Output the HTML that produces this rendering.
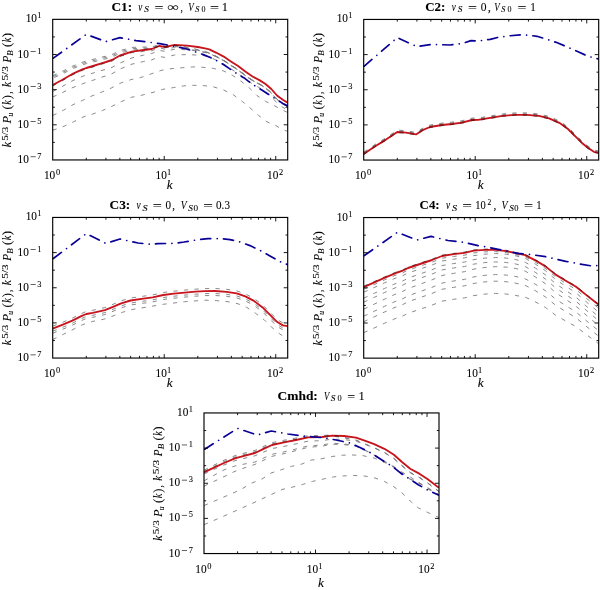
<!DOCTYPE html>
<html><head><meta charset="utf-8"><style>
html,body{margin:0;padding:0;background:#fff;}
svg{display:block;will-change:transform;}
text{font-family:"Liberation Serif", serif;fill:#000;white-space:pre;stroke:#000;stroke-width:0.08px;}
</style></head><body>
<svg width="600" height="590" viewBox="0 0 600 590">
<rect width="600" height="590" fill="#fff"/>
<clipPath id="cpC1"><rect x="52.7" y="19.35" width="235.0" height="140.6"/></clipPath>
<g clip-path="url(#cpC1)" fill="none">
<path d="M52.70,85.00 L62.00,80.00 L72.00,74.20 L83.00,69.20 L86.30,68.00 L93.00,66.00 L103.00,62.80 L106.00,62.00 L112.00,60.00 L120.00,55.50 L132.00,51.60 L143.60,50.00 L151.70,49.00 L159.20,46.00 L165.30,47.00 L174.70,44.90 L187.00,45.60 L197.80,47.00 L205.00,48.30 L209.30,49.30 L216.50,52.80 L223.70,56.60 L230.90,61.40 L238.10,66.00 L245.30,71.60 L252.50,76.50 L259.80,80.40 L265.50,84.00 L271.30,89.00 L277.00,95.50 L282.80,99.80 L287.70,102.70" stroke="#c8141c" stroke-width="1.85" stroke-linejoin="round"/>
<g style="mix-blend-mode:multiply">
<path d="M52.70,130.30 L64.20,126.20 L73.70,121.70 L83.20,117.00 L92.70,114.00 L102.80,110.40 L112.30,106.10 L121.80,101.40 L131.30,97.30 L142.20,95.10 L153.00,92.40 L162.50,89.40 L173.40,87.60 L183.60,85.90 L193.70,85.30 L203.90,85.60 L213.60,86.90 L223.70,90.00 L233.80,95.10 L242.50,101.60 L251.10,108.80 L258.30,115.30 L267.00,121.80 L275.60,125.40 L281.40,129.00 L287.70,131.50" stroke="#7c7c7c" stroke-width="0.9" stroke-dasharray="4.2 6.35"/>
<path d="M52.70,115.50 L63.50,110.20 L73.00,104.70 L82.50,100.40 L92.00,95.90 L102.20,91.90 L111.70,87.80 L121.20,82.80 L130.60,79.70 L140.80,77.50 L151.70,73.70 L161.20,70.40 L172.00,68.60 L182.90,67.70 L192.40,66.90 L203.20,67.30 L213.60,68.40 L223.70,71.00 L232.40,75.30 L241.00,81.10 L249.70,88.30 L256.90,95.50 L265.50,101.30 L274.20,105.60 L281.40,109.60 L287.70,112.50" stroke="#7c7c7c" stroke-width="0.9" stroke-dasharray="4.2 6.35"/>
<path d="M52.70,97.00 L62.00,92.79 L72.00,87.85 L83.00,83.67 L86.30,82.39 L93.00,80.21 L103.00,76.75 L106.00,75.87 L112.00,73.71 L120.00,69.00 L132.00,64.10 L143.60,61.53 L151.70,59.93 L159.20,56.63 L165.30,57.39 L174.70,54.91 L187.00,54.60 L197.80,55.10 L205.00,55.80 L209.30,56.80 L216.50,60.30 L223.70,64.10 L230.90,68.90 L238.10,73.50 L245.30,79.10 L252.50,84.00 L259.80,87.90 L265.50,91.50 L271.30,96.50 L277.00,103.00 L282.80,107.30 L287.70,110.20" stroke="#7c7c7c" stroke-width="0.9" stroke-dasharray="4.2 6.35"/>
<path d="M52.70,91.50 L62.00,86.64 L72.00,80.99 L83.00,76.15 L86.30,75.00 L93.00,73.10 L103.00,70.05 L106.00,69.29 L112.00,67.38 L120.00,63.00 L132.00,57.90 L143.60,55.14 L151.70,53.48 L159.20,50.42 L165.30,51.36 L174.70,49.18 L187.00,49.76 L197.80,51.07 L205.00,52.30 L209.30,53.30 L216.50,56.80 L223.70,60.60 L230.90,65.40 L238.10,70.00 L245.30,75.60 L252.50,80.50 L259.80,84.40 L265.50,88.00 L271.30,93.00 L277.00,99.50 L282.80,103.80 L287.70,106.70" stroke="#7c7c7c" stroke-width="0.9" stroke-dasharray="4.2 6.35"/>
<path d="M52.70,86.00 L62.00,81.00 L72.00,75.20 L83.00,70.20 L86.30,69.00 L93.00,67.00 L103.00,63.80 L106.00,63.00 L112.00,61.00 L120.00,56.50 L132.00,52.60 L143.60,51.40 L151.70,50.69 L159.20,47.95 L165.30,49.16 L174.70,47.39 L187.00,48.78 L197.80,50.79 L205.00,52.50 L209.30,53.50 L216.50,57.00 L223.70,60.80 L230.90,65.60 L238.10,70.20 L245.30,75.80 L252.50,80.70 L259.80,84.60 L265.50,88.20 L271.30,93.20 L277.00,99.70 L282.80,104.00 L287.70,106.90" stroke="#7c7c7c" stroke-width="0.9" stroke-dasharray="4.2 6.35"/>
<path d="M52.70,75.60 L62.00,71.51 L72.00,66.37 L83.00,62.01 L86.30,61.01 L93.00,59.40 L103.00,56.82 L106.00,56.20 L112.00,54.57 L120.00,50.56 L132.00,47.40 L143.60,47.04 L151.70,46.91 L159.20,44.71 L165.30,46.37 L174.70,45.29 L187.00,47.27 L197.80,49.58 L205.00,51.48 L209.30,52.84 L216.50,56.40 L223.70,60.20 L230.90,65.00 L238.10,69.60 L245.30,75.20 L252.50,80.10 L259.80,84.00 L265.50,87.60 L271.30,92.60 L277.00,99.10 L282.80,103.40 L287.70,106.30" stroke="#7c7c7c" stroke-width="0.9" stroke-dasharray="4.2 6.35"/>
<path d="M52.70,76.90 L62.00,72.81 L72.00,67.67 L83.00,63.31 L86.30,62.31 L93.00,60.70 L103.00,58.12 L106.00,57.50 L112.00,55.87 L120.00,51.86 L132.00,48.70 L143.60,48.09 L151.70,47.79 L159.20,45.43 L165.30,47.03 L174.70,45.87 L187.00,47.74 L197.80,49.92 L205.00,51.74 L209.30,53.05 L216.50,56.60 L223.70,60.40 L230.90,65.20 L238.10,69.80 L245.30,75.40 L252.50,80.30 L259.80,84.20 L265.50,87.80 L271.30,92.80 L277.00,99.30 L282.80,103.60 L287.70,106.50" stroke="#7c7c7c" stroke-width="0.9" stroke-dasharray="4.2 6.35" stroke-dashoffset="-0.9"/>
<path d="M52.70,78.20 L62.00,74.11 L72.00,68.97 L83.00,64.61 L86.30,63.61 L93.00,62.00 L103.00,59.42 L106.00,58.80 L112.00,57.17 L120.00,53.16 L132.00,50.00 L143.60,49.15 L151.70,48.67 L159.20,46.15 L165.30,47.69 L174.70,46.45 L187.00,48.22 L197.80,50.27 L205.00,52.00 L209.30,53.26 L216.50,56.80 L223.70,60.60 L230.90,65.40 L238.10,70.00 L245.30,75.60 L252.50,80.50 L259.80,84.40 L265.50,88.00 L271.30,93.00 L277.00,99.50 L282.80,103.80 L287.70,106.70" stroke="#7c7c7c" stroke-width="0.9" stroke-dasharray="4.2 6.35" stroke-dashoffset="-1.8"/>
</g>
<path d="M52.70,58.60 L86.30,34.40 L105.90,41.60 L119.90,37.60 L136.00,40.60 L146.30,41.90 L159.80,43.60 L170.70,45.60 L184.20,48.30 L195.00,51.70 L203.30,54.60 L214.20,59.20 L219.20,62.10 L224.20,65.00 L233.30,71.25 L238.30,74.60 L244.20,77.90 L248.20,81.10 L255.40,86.20 L262.60,90.50 L269.80,95.20 L277.00,99.80 L282.80,103.40 L287.70,105.90" stroke="#0a0096" stroke-width="1.7" stroke-dasharray="10.1 6.4 0.01 6.29" stroke-dashoffset="-0.8" stroke-linecap="round" stroke-linejoin="round"/>
</g>
<path d="M86.27,159.95v-2.2M86.27,19.35v2.2M105.91,159.95v-2.2M105.91,19.35v2.2M119.84,159.95v-2.2M119.84,19.35v2.2M130.65,159.95v-2.2M130.65,19.35v2.2M139.48,159.95v-2.2M139.48,19.35v2.2M146.95,159.95v-2.2M146.95,19.35v2.2M153.41,159.95v-2.2M153.41,19.35v2.2M159.12,159.95v-2.2M159.12,19.35v2.2M164.22,159.95v-4.0M164.22,19.35v4.0M197.79,159.95v-2.2M197.79,19.35v2.2M217.43,159.95v-2.2M217.43,19.35v2.2M231.36,159.95v-2.2M231.36,19.35v2.2M242.17,159.95v-2.2M242.17,19.35v2.2M251.00,159.95v-2.2M251.00,19.35v2.2M258.47,159.95v-2.2M258.47,19.35v2.2M264.94,159.95v-2.2M264.94,19.35v2.2M270.64,159.95v-2.2M270.64,19.35v2.2M275.74,159.95v-4.0M275.74,19.35v4.0M52.70,142.38h2.2M287.70,142.38h-2.2M52.70,124.80h4.0M287.70,124.80h-4.0M52.70,107.22h2.2M287.70,107.22h-2.2M52.70,89.65h4.0M287.70,89.65h-4.0M52.70,72.07h2.2M287.70,72.07h-2.2M52.70,54.50h4.0M287.70,54.50h-4.0M52.70,36.92h2.2M287.70,36.92h-2.2" stroke="#000" stroke-width="0.9" fill="none"/>
<rect x="52.70" y="19.35" width="235.00" height="140.60" stroke="#000" stroke-width="1.15" fill="none"/>
<text transform="translate(25.70,22.35) scale(0.944,1)" font-size="12.0">10</text><text x="37.35" y="18.35" font-size="8.4">1</text>
<text transform="translate(17.55,57.50) scale(0.944,1)" font-size="12.0">10</text><rect x="30.55" y="51.05" width="5.15" height="0.62" fill="#000"/><text x="37.35" y="53.50" font-size="8.4">1</text>
<text transform="translate(17.55,92.65) scale(0.944,1)" font-size="12.0">10</text><rect x="30.55" y="86.20" width="5.15" height="0.62" fill="#000"/><text x="37.35" y="88.65" font-size="8.4">3</text>
<text transform="translate(17.55,127.80) scale(0.944,1)" font-size="12.0">10</text><rect x="30.55" y="121.35" width="5.15" height="0.62" fill="#000"/><text x="37.35" y="123.80" font-size="8.4">5</text>
<text transform="translate(17.55,162.95) scale(0.944,1)" font-size="12.0">10</text><rect x="30.55" y="156.50" width="5.15" height="0.62" fill="#000"/><text x="37.35" y="158.95" font-size="8.4">7</text>
<text transform="translate(43.95,178.95) scale(0.944,1)" font-size="12.0">10</text><text x="55.93" y="175.05" font-size="8.4">0</text>
<text transform="translate(155.48,178.95) scale(0.944,1)" font-size="12.0">10</text><text x="167.03" y="175.05" font-size="8.4">1</text>
<text transform="translate(267.00,178.95) scale(0.944,1)" font-size="12.0">10</text><text x="278.92" y="175.05" font-size="8.4">2</text>
<text transform="translate(166.82,189.25) scale(1.105,1)" font-size="12.0" font-style="italic">k</text>
<g transform="translate(10.90,147.15) rotate(-90)"><text transform="translate(-0.05,0.00) scale(1.008,1)" font-size="12.0" font-style="italic">k</text><text transform="translate(6.46,-3.30) scale(1.311,1)" font-size="8.4">5/3</text><text transform="translate(23.77,0.00) scale(1.016,1)" font-size="12.0" font-style="italic">P</text><text transform="translate(30.53,1.90) scale(0.891,1)" font-size="8.4" font-style="italic">u</text><text transform="translate(37.72,0.00) scale(1.103,1)" font-size="12.0">(</text><text transform="translate(42.50,0.00) scale(0.853,1)" font-size="12.0" font-style="italic">k</text><text transform="translate(47.90,0.00) scale(1.038,1)" font-size="12.0">)</text><text transform="translate(53.34,0.00) scale(0.783,1)" font-size="12.0">,</text><text transform="translate(60.07,0.00) scale(0.950,1)" font-size="12.0" font-style="italic">k</text><text transform="translate(66.55,-3.30) scale(1.341,1)" font-size="8.4">5/3</text><text transform="translate(84.56,0.00) scale(0.931,1)" font-size="12.0" font-style="italic">P</text><text transform="translate(91.42,1.60) scale(1.068,1)" font-size="8.4" font-style="italic">B</text><text transform="translate(100.22,0.00) scale(1.103,1)" font-size="12.0">(</text><text transform="translate(104.91,0.00) scale(0.834,1)" font-size="12.0" font-style="italic">k</text><text transform="translate(109.89,0.00) scale(1.071,1)" font-size="12.0">)</text></g>
<text transform="translate(111.40,10.50) scale(1.112,1)" font-size="12.0" font-weight="bold">C1:</text><text transform="translate(138.18,10.50) scale(0.756,1)" font-size="12.0" font-style="italic">ν</text><text transform="translate(144.19,12.40) scale(1.109,1)" font-size="8.4" font-style="italic">S</text><text transform="translate(154.51,11.60) scale(1.325,1)" font-size="12.0">=</text><text transform="translate(167.19,11.20) scale(1.360,1)" font-size="12.0">∞</text><text transform="translate(180.44,10.50) scale(0.783,1)" font-size="12.0">,</text><text transform="translate(188.33,10.50) scale(0.751,1)" font-size="12.0" font-style="italic">V</text><text transform="translate(195.20,12.40) scale(0.983,1)" font-size="8.4" font-style="italic">S</text><text transform="translate(201.49,12.40) scale(0.955,1)" font-size="8.4">0</text><text transform="translate(210.01,11.60) scale(1.325,1)" font-size="12.0">=</text><text transform="translate(221.70,10.50) scale(1.042,1)" font-size="12.0">1</text>
<clipPath id="cpC2"><rect x="363.7" y="19.45" width="235.0" height="140.6"/></clipPath>
<g clip-path="url(#cpC2)" fill="none">
<path d="M363.70,154.00 L374.00,147.00 L386.00,139.60 L397.30,132.00 L406.00,132.60 L416.00,134.40 L422.00,130.40 L430.00,127.00 L442.00,125.00 L452.00,124.00 L462.00,122.60 L472.00,120.00 L478.00,119.90 L490.20,117.90 L502.40,115.90 L514.60,114.80 L526.80,114.80 L539.00,115.90 L549.10,118.30 L559.30,122.80 L567.40,128.50 L575.60,136.60 L581.70,142.70 L587.80,147.80 L593.90,151.80 L598.40,152.80" stroke="#c8141c" stroke-width="1.85" stroke-linejoin="round"/>
<g style="mix-blend-mode:multiply">
<path d="M363.70,152.10 L374.00,145.10 L386.00,137.70 L397.30,130.10 L406.00,130.70 L416.00,132.50 L422.00,128.50 L430.00,125.10 L442.00,123.10 L452.00,122.10 L462.00,120.70 L472.00,118.10 L478.00,118.00 L490.20,116.00 L502.40,114.00 L514.60,112.90 L526.80,112.90 L539.00,114.00 L549.10,116.40 L559.30,120.90 L567.40,126.60 L575.60,134.70 L581.70,140.80 L587.80,145.90 L593.90,149.90 L598.40,150.90" stroke="#7c7c7c" stroke-width="0.9" stroke-dasharray="4.2 6.35"/>
<path d="M363.70,153.00 L374.00,146.00 L386.00,138.60 L397.30,131.00 L406.00,131.60 L416.00,133.40 L422.00,129.40 L430.00,126.00 L442.00,124.00 L452.00,123.00 L462.00,121.60 L472.00,119.00 L478.00,118.90 L490.20,116.90 L502.40,114.90 L514.60,113.80 L526.80,113.80 L539.00,114.90 L549.10,117.30 L559.30,121.80 L567.40,127.50 L575.60,135.60 L581.70,141.70 L587.80,146.80 L593.90,150.80 L598.40,151.80" stroke="#7c7c7c" stroke-width="0.9" stroke-dasharray="4.2 6.35"/>
<path d="M363.70,154.60 L374.00,147.60 L386.00,140.20 L397.30,132.60 L406.00,133.20 L416.00,135.00 L422.00,131.00 L430.00,127.60 L442.00,125.60 L452.00,124.60 L462.00,123.20 L472.00,120.60 L478.00,120.50 L490.20,118.50 L502.40,116.50 L514.60,115.40 L526.80,115.40 L539.00,116.50 L549.10,118.90 L559.30,123.40 L567.40,129.10 L575.60,137.20 L581.70,143.30 L587.80,148.40 L593.90,152.40 L598.40,153.40" stroke="#7c7c7c" stroke-width="0.9" stroke-dasharray="4.2 6.35"/>
</g>
<path d="M363.70,66.60 L397.30,37.60 L416.90,46.60 L432.00,44.40 L450.00,45.00 L462.00,43.60 L471.00,40.60 L478.00,41.00 L490.20,39.30 L498.30,37.30 L508.50,35.90 L520.70,34.80 L528.80,35.20 L537.00,36.30 L547.10,39.30 L557.30,42.80 L567.40,47.00 L577.60,51.50 L587.80,56.20 L598.40,59.00" stroke="#0a0096" stroke-width="1.7" stroke-dasharray="10.1 6.4 0.01 6.29" stroke-dashoffset="-0.8" stroke-linecap="round" stroke-linejoin="round"/>
</g>
<path d="M397.27,160.05v-2.2M397.27,19.45v2.2M416.91,160.05v-2.2M416.91,19.45v2.2M430.84,160.05v-2.2M430.84,19.45v2.2M441.65,160.05v-2.2M441.65,19.45v2.2M450.48,160.05v-2.2M450.48,19.45v2.2M457.95,160.05v-2.2M457.95,19.45v2.2M464.41,160.05v-2.2M464.41,19.45v2.2M470.12,160.05v-2.2M470.12,19.45v2.2M475.22,160.05v-4.0M475.22,19.45v4.0M508.79,160.05v-2.2M508.79,19.45v2.2M528.43,160.05v-2.2M528.43,19.45v2.2M542.36,160.05v-2.2M542.36,19.45v2.2M553.17,160.05v-2.2M553.17,19.45v2.2M562.00,160.05v-2.2M562.00,19.45v2.2M569.47,160.05v-2.2M569.47,19.45v2.2M575.94,160.05v-2.2M575.94,19.45v2.2M581.64,160.05v-2.2M581.64,19.45v2.2M586.74,160.05v-4.0M586.74,19.45v4.0M363.70,142.47h2.2M598.70,142.47h-2.2M363.70,124.90h4.0M598.70,124.90h-4.0M363.70,107.33h2.2M598.70,107.33h-2.2M363.70,89.75h4.0M598.70,89.75h-4.0M363.70,72.17h2.2M598.70,72.17h-2.2M363.70,54.60h4.0M598.70,54.60h-4.0M363.70,37.02h2.2M598.70,37.02h-2.2" stroke="#000" stroke-width="0.9" fill="none"/>
<rect x="363.70" y="19.45" width="235.00" height="140.60" stroke="#000" stroke-width="1.15" fill="none"/>
<text transform="translate(336.70,22.45) scale(0.944,1)" font-size="12.0">10</text><text x="348.35" y="18.45" font-size="8.4">1</text>
<text transform="translate(328.55,57.60) scale(0.944,1)" font-size="12.0">10</text><rect x="341.55" y="51.15" width="5.15" height="0.62" fill="#000"/><text x="348.35" y="53.60" font-size="8.4">1</text>
<text transform="translate(328.55,92.75) scale(0.944,1)" font-size="12.0">10</text><rect x="341.55" y="86.30" width="5.15" height="0.62" fill="#000"/><text x="348.35" y="88.75" font-size="8.4">3</text>
<text transform="translate(328.55,127.90) scale(0.944,1)" font-size="12.0">10</text><rect x="341.55" y="121.45" width="5.15" height="0.62" fill="#000"/><text x="348.35" y="123.90" font-size="8.4">5</text>
<text transform="translate(328.55,163.05) scale(0.944,1)" font-size="12.0">10</text><rect x="341.55" y="156.60" width="5.15" height="0.62" fill="#000"/><text x="348.35" y="159.05" font-size="8.4">7</text>
<text transform="translate(354.95,179.05) scale(0.944,1)" font-size="12.0">10</text><text x="366.93" y="175.15" font-size="8.4">0</text>
<text transform="translate(466.48,179.05) scale(0.944,1)" font-size="12.0">10</text><text x="478.03" y="175.15" font-size="8.4">1</text>
<text transform="translate(578.00,179.05) scale(0.944,1)" font-size="12.0">10</text><text x="589.92" y="175.15" font-size="8.4">2</text>
<text transform="translate(477.82,189.35) scale(1.105,1)" font-size="12.0" font-style="italic">k</text>
<g transform="translate(321.90,147.25) rotate(-90)"><text transform="translate(-0.05,0.00) scale(1.008,1)" font-size="12.0" font-style="italic">k</text><text transform="translate(6.46,-3.30) scale(1.311,1)" font-size="8.4">5/3</text><text transform="translate(23.77,0.00) scale(1.016,1)" font-size="12.0" font-style="italic">P</text><text transform="translate(30.53,1.90) scale(0.891,1)" font-size="8.4" font-style="italic">u</text><text transform="translate(37.72,0.00) scale(1.103,1)" font-size="12.0">(</text><text transform="translate(42.50,0.00) scale(0.853,1)" font-size="12.0" font-style="italic">k</text><text transform="translate(47.90,0.00) scale(1.038,1)" font-size="12.0">)</text><text transform="translate(53.34,0.00) scale(0.783,1)" font-size="12.0">,</text><text transform="translate(60.07,0.00) scale(0.950,1)" font-size="12.0" font-style="italic">k</text><text transform="translate(66.55,-3.30) scale(1.341,1)" font-size="8.4">5/3</text><text transform="translate(84.56,0.00) scale(0.931,1)" font-size="12.0" font-style="italic">P</text><text transform="translate(91.42,1.60) scale(1.068,1)" font-size="8.4" font-style="italic">B</text><text transform="translate(100.22,0.00) scale(1.103,1)" font-size="12.0">(</text><text transform="translate(104.91,0.00) scale(0.834,1)" font-size="12.0" font-style="italic">k</text><text transform="translate(109.89,0.00) scale(1.071,1)" font-size="12.0">)</text></g>
<text transform="translate(425.17,10.50) scale(1.082,1)" font-size="12.0" font-weight="bold">C2:</text><text transform="translate(451.68,10.50) scale(0.756,1)" font-size="12.0" font-style="italic">ν</text><text transform="translate(457.69,12.40) scale(1.109,1)" font-size="8.4" font-style="italic">S</text><text transform="translate(468.01,11.60) scale(1.325,1)" font-size="12.0">=</text><text transform="translate(480.86,10.50) scale(0.963,1)" font-size="12.0">0</text><text transform="translate(487.81,10.50) scale(1.063,1)" font-size="12.0">,</text><text transform="translate(494.33,10.50) scale(0.751,1)" font-size="12.0" font-style="italic">V</text><text transform="translate(501.20,12.40) scale(0.983,1)" font-size="8.4" font-style="italic">S</text><text transform="translate(507.49,12.40) scale(0.955,1)" font-size="8.4">0</text><text transform="translate(517.51,11.60) scale(1.325,1)" font-size="12.0">=</text><text transform="translate(530.33,10.50) scale(0.923,1)" font-size="12.0">1</text>
<clipPath id="cpC3"><rect x="52.7" y="217.45" width="235.0" height="140.6"/></clipPath>
<g clip-path="url(#cpC3)" fill="none">
<path d="M52.70,328.70 L62.80,324.70 L72.30,320.70 L81.80,315.90 L86.30,314.00 L92.70,312.80 L104.90,310.10 L113.00,306.80 L121.20,303.30 L130.60,300.50 L143.30,298.70 L152.70,297.40 L163.30,295.00 L174.00,293.70 L184.70,292.60 L195.30,291.70 L204.70,291.10 L215.10,291.00 L226.60,291.80 L236.70,293.40 L245.30,296.40 L254.00,300.90 L262.60,307.40 L269.80,314.60 L277.00,321.80 L282.80,325.40 L287.70,326.20" stroke="#c8141c" stroke-width="1.85" stroke-linejoin="round"/>
<g style="mix-blend-mode:multiply">
<path d="M52.70,339.50 L63.50,334.20 L73.00,329.50 L82.50,324.70 L92.70,321.40 L103.50,319.30 L113.00,316.00 L122.50,312.30 L130.60,309.80 L163.30,304.30 L184.70,301.70 L205.00,300.20 L216.50,300.60 L228.00,301.70 L238.10,303.80 L246.80,307.40 L255.40,313.20 L264.10,319.70 L271.30,326.90 L279.90,334.10 L287.70,338.50" stroke="#7c7c7c" stroke-width="0.9" stroke-dasharray="4.2 6.35"/>
<path d="M52.70,326.20 L62.80,322.20 L72.30,318.20 L81.80,313.40 L86.30,311.50 L92.70,310.30 L104.90,307.60 L113.00,304.30 L121.20,300.80 L130.60,298.00 L143.30,296.20 L152.70,294.90 L163.30,292.50 L174.00,291.20 L184.70,290.10 L195.30,289.20 L204.70,288.60 L215.10,288.50 L226.60,289.30 L236.70,290.90 L245.30,293.90 L254.00,298.40 L262.60,304.90 L269.80,312.10 L277.00,319.30 L282.80,322.90 L287.70,323.70" stroke="#7c7c7c" stroke-width="0.9" stroke-dasharray="4.2 6.35"/>
<path d="M52.70,331.20 L62.80,327.20 L72.30,323.20 L81.80,318.40 L86.30,316.50 L92.70,315.30 L104.90,312.60 L113.00,309.30 L121.20,305.80 L130.60,303.00 L143.30,301.20 L152.70,299.90 L163.30,297.50 L174.00,296.20 L184.70,295.10 L195.30,294.20 L204.70,293.60 L215.10,293.50 L226.60,294.30 L236.70,295.90 L245.30,298.90 L254.00,303.40 L262.60,309.90 L269.80,317.10 L277.00,324.30 L282.80,327.90 L287.70,328.70" stroke="#7c7c7c" stroke-width="0.9" stroke-dasharray="4.2 6.35"/>
<path d="M52.70,333.20 L62.80,329.20 L72.30,325.20 L81.80,320.40 L86.30,318.50 L92.70,317.30 L104.90,314.60 L113.00,311.30 L121.20,307.80 L130.60,305.00 L143.30,303.20 L152.70,301.90 L163.30,299.50 L174.00,298.20 L184.70,297.10 L195.30,296.20 L204.70,295.60 L215.10,295.50 L226.60,296.30 L236.70,297.90 L245.30,300.90 L254.00,305.40 L262.60,311.90 L269.80,319.10 L277.00,326.30 L282.80,329.90 L287.70,330.70" stroke="#7c7c7c" stroke-width="0.9" stroke-dasharray="4.2 6.35"/>
</g>
<path d="M52.70,259.00 L86.30,233.60 L105.90,243.40 L120.00,239.00 L138.00,243.00 L152.00,244.40 L158.00,243.60 L174.00,243.40 L184.00,242.00 L196.00,240.00 L208.00,238.60 L220.00,238.60 L230.00,239.60 L240.00,242.00 L250.00,245.60 L260.00,250.40 L270.00,256.00 L280.00,261.60 L287.70,264.60" stroke="#0a0096" stroke-width="1.7" stroke-dasharray="10.1 6.4 0.01 6.29" stroke-dashoffset="-0.8" stroke-linecap="round" stroke-linejoin="round"/>
</g>
<path d="M86.27,358.05v-2.2M86.27,217.45v2.2M105.91,358.05v-2.2M105.91,217.45v2.2M119.84,358.05v-2.2M119.84,217.45v2.2M130.65,358.05v-2.2M130.65,217.45v2.2M139.48,358.05v-2.2M139.48,217.45v2.2M146.95,358.05v-2.2M146.95,217.45v2.2M153.41,358.05v-2.2M153.41,217.45v2.2M159.12,358.05v-2.2M159.12,217.45v2.2M164.22,358.05v-4.0M164.22,217.45v4.0M197.79,358.05v-2.2M197.79,217.45v2.2M217.43,358.05v-2.2M217.43,217.45v2.2M231.36,358.05v-2.2M231.36,217.45v2.2M242.17,358.05v-2.2M242.17,217.45v2.2M251.00,358.05v-2.2M251.00,217.45v2.2M258.47,358.05v-2.2M258.47,217.45v2.2M264.94,358.05v-2.2M264.94,217.45v2.2M270.64,358.05v-2.2M270.64,217.45v2.2M275.74,358.05v-4.0M275.74,217.45v4.0M52.70,340.47h2.2M287.70,340.47h-2.2M52.70,322.90h4.0M287.70,322.90h-4.0M52.70,305.32h2.2M287.70,305.32h-2.2M52.70,287.75h4.0M287.70,287.75h-4.0M52.70,270.17h2.2M287.70,270.17h-2.2M52.70,252.60h4.0M287.70,252.60h-4.0M52.70,235.02h2.2M287.70,235.02h-2.2" stroke="#000" stroke-width="0.9" fill="none"/>
<rect x="52.70" y="217.45" width="235.00" height="140.60" stroke="#000" stroke-width="1.15" fill="none"/>
<text transform="translate(25.70,220.45) scale(0.944,1)" font-size="12.0">10</text><text x="37.35" y="216.45" font-size="8.4">1</text>
<text transform="translate(17.55,255.60) scale(0.944,1)" font-size="12.0">10</text><rect x="30.55" y="249.15" width="5.15" height="0.62" fill="#000"/><text x="37.35" y="251.60" font-size="8.4">1</text>
<text transform="translate(17.55,290.75) scale(0.944,1)" font-size="12.0">10</text><rect x="30.55" y="284.30" width="5.15" height="0.62" fill="#000"/><text x="37.35" y="286.75" font-size="8.4">3</text>
<text transform="translate(17.55,325.90) scale(0.944,1)" font-size="12.0">10</text><rect x="30.55" y="319.45" width="5.15" height="0.62" fill="#000"/><text x="37.35" y="321.90" font-size="8.4">5</text>
<text transform="translate(17.55,361.05) scale(0.944,1)" font-size="12.0">10</text><rect x="30.55" y="354.60" width="5.15" height="0.62" fill="#000"/><text x="37.35" y="357.05" font-size="8.4">7</text>
<text transform="translate(43.95,377.05) scale(0.944,1)" font-size="12.0">10</text><text x="55.93" y="373.15" font-size="8.4">0</text>
<text transform="translate(155.48,377.05) scale(0.944,1)" font-size="12.0">10</text><text x="167.03" y="373.15" font-size="8.4">1</text>
<text transform="translate(267.00,377.05) scale(0.944,1)" font-size="12.0">10</text><text x="278.92" y="373.15" font-size="8.4">2</text>
<text transform="translate(166.82,387.35) scale(1.105,1)" font-size="12.0" font-style="italic">k</text>
<g transform="translate(10.90,345.25) rotate(-90)"><text transform="translate(-0.05,0.00) scale(1.008,1)" font-size="12.0" font-style="italic">k</text><text transform="translate(6.46,-3.30) scale(1.311,1)" font-size="8.4">5/3</text><text transform="translate(23.77,0.00) scale(1.016,1)" font-size="12.0" font-style="italic">P</text><text transform="translate(30.53,1.90) scale(0.891,1)" font-size="8.4" font-style="italic">u</text><text transform="translate(37.72,0.00) scale(1.103,1)" font-size="12.0">(</text><text transform="translate(42.50,0.00) scale(0.853,1)" font-size="12.0" font-style="italic">k</text><text transform="translate(47.90,0.00) scale(1.038,1)" font-size="12.0">)</text><text transform="translate(53.34,0.00) scale(0.783,1)" font-size="12.0">,</text><text transform="translate(60.07,0.00) scale(0.950,1)" font-size="12.0" font-style="italic">k</text><text transform="translate(66.55,-3.30) scale(1.341,1)" font-size="8.4">5/3</text><text transform="translate(84.56,0.00) scale(0.931,1)" font-size="12.0" font-style="italic">P</text><text transform="translate(91.42,1.60) scale(1.068,1)" font-size="8.4" font-style="italic">B</text><text transform="translate(100.22,0.00) scale(1.103,1)" font-size="12.0">(</text><text transform="translate(104.91,0.00) scale(0.834,1)" font-size="12.0" font-style="italic">k</text><text transform="translate(109.89,0.00) scale(1.071,1)" font-size="12.0">)</text></g>
<text transform="translate(109.55,208.70) scale(1.112,1)" font-size="12.0" font-weight="bold">C3:</text><text transform="translate(136.57,208.70) scale(0.775,1)" font-size="12.0" font-style="italic">ν</text><text transform="translate(142.58,210.60) scale(1.210,1)" font-size="8.4" font-style="italic">S</text><text transform="translate(152.70,209.80) scale(1.343,1)" font-size="12.0">=</text><text transform="translate(165.58,208.70) scale(0.924,1)" font-size="12.0">0</text><text transform="translate(172.19,208.70) scale(0.895,1)" font-size="12.0">,</text><text transform="translate(180.79,208.70) scale(0.815,1)" font-size="12.0" font-style="italic">V</text><text transform="translate(188.19,210.60) scale(1.109,1)" font-size="8.4" font-style="italic">S</text><text transform="translate(193.45,210.60) scale(1.095,1)" font-size="8.4">0</text><text transform="translate(203.24,209.80) scale(1.433,1)" font-size="12.0">=</text><text transform="translate(216.08,208.70) scale(0.924,1)" font-size="12.0">0.3</text>
<clipPath id="cpC4"><rect x="363.7" y="217.55" width="235.0" height="140.6"/></clipPath>
<g clip-path="url(#cpC4)" fill="none">
<path d="M363.70,287.20 L374.90,282.20 L384.40,277.90 L393.90,273.80 L397.30,272.50 L402.70,270.70 L408.00,268.00 L420.00,264.00 L432.00,260.00 L442.00,256.00 L453.60,254.20 L464.40,252.90 L473.90,250.60 L484.70,249.80 L495.60,249.80 L506.40,251.10 L515.90,253.20 L525.20,255.20 L535.30,260.30 L545.50,266.40 L555.70,274.60 L565.80,280.70 L576.00,286.70 L586.10,294.90 L598.40,304.50" stroke="#c8141c" stroke-width="1.85" stroke-linejoin="round"/>
<g style="mix-blend-mode:multiply">
<path d="M363.70,286.20 L374.90,281.22 L384.40,276.94 L393.90,272.85 L397.30,271.56 L402.70,269.77 L408.00,267.08 L420.00,263.10 L432.00,259.12 L442.00,255.14 L453.60,253.36 L464.40,252.08 L473.90,249.80 L484.70,249.00 L495.60,249.00 L506.40,250.30 L515.90,252.40 L525.20,254.43 L535.30,259.57 L545.50,265.71 L555.70,273.94 L565.80,280.08 L576.00,286.12 L586.10,294.36 L598.40,304.00" stroke="#7c7c7c" stroke-width="0.9" stroke-dasharray="4.2 6.35"/>
<path d="M363.70,289.20 L374.90,284.23 L384.40,279.96 L393.90,275.88 L397.30,274.59 L402.70,272.81 L408.00,270.12 L420.00,266.15 L432.00,262.19 L442.00,258.21 L453.60,256.44 L464.40,255.17 L473.90,252.90 L484.70,251.85 L495.60,251.59 L506.40,252.63 L515.90,254.50 L525.20,256.75 L535.30,262.12 L545.50,268.49 L555.70,276.96 L565.80,283.33 L576.00,289.60 L586.10,298.07 L598.40,308.00" stroke="#7c7c7c" stroke-width="0.9" stroke-dasharray="4.2 6.35"/>
<path d="M363.70,292.20 L374.90,287.20 L384.40,282.90 L393.90,278.80 L397.30,277.50 L402.70,275.70 L408.00,273.00 L420.00,269.00 L432.00,265.00 L442.00,261.00 L453.60,259.20 L464.40,257.90 L473.90,255.60 L484.70,254.19 L495.60,253.57 L506.40,254.25 L515.90,255.81 L525.20,258.35 L535.30,264.05 L545.50,270.75 L555.70,279.56 L565.80,286.26 L576.00,292.87 L586.10,301.67 L598.40,312.00" stroke="#7c7c7c" stroke-width="0.9" stroke-dasharray="4.2 6.35"/>
<path d="M363.70,298.20 L374.90,293.00 L384.40,288.52 L393.90,284.25 L397.30,282.89 L402.70,280.99 L408.00,278.20 L420.00,273.98 L432.00,269.76 L442.00,265.58 L453.60,263.57 L464.40,262.07 L473.90,259.60 L484.70,258.14 L495.60,257.46 L506.40,258.09 L515.90,259.61 L525.20,262.23 L535.30,268.01 L545.50,274.80 L555.70,283.70 L565.80,290.48 L576.00,297.18 L586.10,306.06 L598.40,316.50" stroke="#7c7c7c" stroke-width="0.9" stroke-dasharray="4.2 6.35"/>
<path d="M363.70,302.20 L374.90,297.05 L384.40,292.62 L393.90,288.39 L397.30,287.04 L402.70,285.17 L408.00,282.40 L420.00,278.23 L432.00,274.07 L442.00,269.94 L453.60,267.98 L464.40,266.53 L473.90,264.10 L484.70,262.61 L495.60,261.91 L506.40,262.52 L515.90,264.01 L525.20,266.58 L535.30,272.32 L545.50,279.06 L555.70,287.91 L565.80,294.64 L576.00,301.29 L586.10,310.12 L598.40,320.50" stroke="#7c7c7c" stroke-width="0.9" stroke-dasharray="4.2 6.35"/>
<path d="M363.70,309.20 L374.90,303.84 L384.40,299.24 L393.90,294.84 L397.30,293.43 L402.70,291.46 L408.00,288.59 L420.00,284.21 L432.00,279.83 L442.00,275.52 L453.60,273.35 L464.40,271.70 L473.90,269.10 L484.70,267.48 L495.60,266.65 L506.40,267.13 L515.90,268.51 L525.20,271.14 L535.30,276.94 L545.50,283.74 L555.70,292.65 L565.80,299.44 L576.00,306.15 L586.10,315.05 L598.40,325.50" stroke="#7c7c7c" stroke-width="0.9" stroke-dasharray="4.2 6.35"/>
<path d="M363.70,316.20 L374.90,310.93 L384.40,306.39 L393.90,302.06 L397.30,300.68 L402.70,298.75 L408.00,295.92 L420.00,291.62 L432.00,287.33 L442.00,283.08 L453.60,281.00 L464.40,279.43 L473.90,276.90 L484.70,275.34 L495.60,274.56 L506.40,275.09 L515.90,276.51 L525.20,278.80 L535.30,284.23 L545.50,290.67 L555.70,299.20 L565.80,305.63 L576.00,311.97 L586.10,320.50 L598.40,330.50" stroke="#7c7c7c" stroke-width="0.9" stroke-dasharray="4.2 6.35"/>
<path d="M363.70,321.70 L374.90,316.53 L384.40,312.08 L393.90,307.83 L397.30,306.48 L402.70,304.60 L408.00,301.82 L420.00,297.63 L432.00,293.45 L442.00,289.29 L453.60,287.31 L464.40,285.85 L473.90,283.40 L484.70,281.89 L495.60,281.16 L506.40,281.74 L515.90,283.21 L525.20,285.37 L535.30,290.65 L545.50,296.94 L555.70,305.32 L565.80,311.61 L576.00,317.79 L586.10,326.18 L598.40,336.00" stroke="#7c7c7c" stroke-width="0.9" stroke-dasharray="4.2 6.35"/>
<path d="M363.70,332.70 L374.90,327.65 L384.40,323.31 L393.90,319.16 L397.30,317.85 L402.70,316.02 L408.00,313.30 L420.00,309.24 L432.00,305.19 L442.00,301.15 L453.60,299.29 L464.40,297.94 L473.90,295.60 L484.70,294.11 L495.60,293.41 L506.40,294.02 L515.90,295.51 L525.20,297.13 L535.30,301.83 L545.50,307.52 L555.70,315.31 L565.80,321.01 L576.00,326.60 L586.10,334.39 L598.40,343.50" stroke="#7c7c7c" stroke-width="0.9" stroke-dasharray="4.2 6.35"/>
</g>
<path d="M363.70,256.00 L397.30,232.40 L416.90,240.00 L431.00,236.40 L448.00,240.50 L464.40,242.40 L478.00,245.70 L486.10,246.80 L497.00,249.20 L505.00,250.60 L517.30,253.30 L531.30,254.60 L545.50,256.70 L565.80,261.30 L582.10,264.40 L592.20,266.00 L598.40,265.40" stroke="#0a0096" stroke-width="1.7" stroke-dasharray="10.1 6.4 0.01 6.29" stroke-dashoffset="-0.8" stroke-linecap="round" stroke-linejoin="round"/>
</g>
<path d="M397.27,358.15v-2.2M397.27,217.55v2.2M416.91,358.15v-2.2M416.91,217.55v2.2M430.84,358.15v-2.2M430.84,217.55v2.2M441.65,358.15v-2.2M441.65,217.55v2.2M450.48,358.15v-2.2M450.48,217.55v2.2M457.95,358.15v-2.2M457.95,217.55v2.2M464.41,358.15v-2.2M464.41,217.55v2.2M470.12,358.15v-2.2M470.12,217.55v2.2M475.22,358.15v-4.0M475.22,217.55v4.0M508.79,358.15v-2.2M508.79,217.55v2.2M528.43,358.15v-2.2M528.43,217.55v2.2M542.36,358.15v-2.2M542.36,217.55v2.2M553.17,358.15v-2.2M553.17,217.55v2.2M562.00,358.15v-2.2M562.00,217.55v2.2M569.47,358.15v-2.2M569.47,217.55v2.2M575.94,358.15v-2.2M575.94,217.55v2.2M581.64,358.15v-2.2M581.64,217.55v2.2M586.74,358.15v-4.0M586.74,217.55v4.0M363.70,340.57h2.2M598.70,340.57h-2.2M363.70,323.00h4.0M598.70,323.00h-4.0M363.70,305.43h2.2M598.70,305.43h-2.2M363.70,287.85h4.0M598.70,287.85h-4.0M363.70,270.27h2.2M598.70,270.27h-2.2M363.70,252.70h4.0M598.70,252.70h-4.0M363.70,235.12h2.2M598.70,235.12h-2.2" stroke="#000" stroke-width="0.9" fill="none"/>
<rect x="363.70" y="217.55" width="235.00" height="140.60" stroke="#000" stroke-width="1.15" fill="none"/>
<text transform="translate(336.70,220.55) scale(0.944,1)" font-size="12.0">10</text><text x="348.35" y="216.55" font-size="8.4">1</text>
<text transform="translate(328.55,255.70) scale(0.944,1)" font-size="12.0">10</text><rect x="341.55" y="249.25" width="5.15" height="0.62" fill="#000"/><text x="348.35" y="251.70" font-size="8.4">1</text>
<text transform="translate(328.55,290.85) scale(0.944,1)" font-size="12.0">10</text><rect x="341.55" y="284.40" width="5.15" height="0.62" fill="#000"/><text x="348.35" y="286.85" font-size="8.4">3</text>
<text transform="translate(328.55,326.00) scale(0.944,1)" font-size="12.0">10</text><rect x="341.55" y="319.55" width="5.15" height="0.62" fill="#000"/><text x="348.35" y="322.00" font-size="8.4">5</text>
<text transform="translate(328.55,361.15) scale(0.944,1)" font-size="12.0">10</text><rect x="341.55" y="354.70" width="5.15" height="0.62" fill="#000"/><text x="348.35" y="357.15" font-size="8.4">7</text>
<text transform="translate(354.95,377.15) scale(0.944,1)" font-size="12.0">10</text><text x="366.93" y="373.25" font-size="8.4">0</text>
<text transform="translate(466.48,377.15) scale(0.944,1)" font-size="12.0">10</text><text x="478.03" y="373.25" font-size="8.4">1</text>
<text transform="translate(578.00,377.15) scale(0.944,1)" font-size="12.0">10</text><text x="589.92" y="373.25" font-size="8.4">2</text>
<text transform="translate(477.82,387.45) scale(1.105,1)" font-size="12.0" font-style="italic">k</text>
<g transform="translate(321.90,345.35) rotate(-90)"><text transform="translate(-0.05,0.00) scale(1.008,1)" font-size="12.0" font-style="italic">k</text><text transform="translate(6.46,-3.30) scale(1.311,1)" font-size="8.4">5/3</text><text transform="translate(23.77,0.00) scale(1.016,1)" font-size="12.0" font-style="italic">P</text><text transform="translate(30.53,1.90) scale(0.891,1)" font-size="8.4" font-style="italic">u</text><text transform="translate(37.72,0.00) scale(1.103,1)" font-size="12.0">(</text><text transform="translate(42.50,0.00) scale(0.853,1)" font-size="12.0" font-style="italic">k</text><text transform="translate(47.90,0.00) scale(1.038,1)" font-size="12.0">)</text><text transform="translate(53.34,0.00) scale(0.783,1)" font-size="12.0">,</text><text transform="translate(60.07,0.00) scale(0.950,1)" font-size="12.0" font-style="italic">k</text><text transform="translate(66.55,-3.30) scale(1.341,1)" font-size="8.4">5/3</text><text transform="translate(84.56,0.00) scale(0.931,1)" font-size="12.0" font-style="italic">P</text><text transform="translate(91.42,1.60) scale(1.068,1)" font-size="8.4" font-style="italic">B</text><text transform="translate(100.22,0.00) scale(1.103,1)" font-size="12.0">(</text><text transform="translate(104.91,0.00) scale(0.834,1)" font-size="12.0" font-style="italic">k</text><text transform="translate(109.89,0.00) scale(1.071,1)" font-size="12.0">)</text></g>
<text transform="translate(419.57,208.70) scale(1.076,1)" font-size="12.0" font-weight="bold">C4:</text><text transform="translate(446.07,208.70) scale(0.775,1)" font-size="12.0" font-style="italic">ν</text><text transform="translate(451.98,210.60) scale(1.235,1)" font-size="8.4" font-style="italic">S</text><text transform="translate(462.14,209.80) scale(1.433,1)" font-size="12.0">=</text><text transform="translate(475.37,208.70) scale(0.877,1)" font-size="12.0">10</text><text transform="translate(487.57,204.70) scale(0.891,1)" font-size="8.4">2</text><text transform="translate(493.57,208.70) scale(0.951,1)" font-size="12.0">,</text><text transform="translate(501.57,208.70) scale(0.840,1)" font-size="12.0" font-style="italic">V</text><text transform="translate(509.19,210.60) scale(1.109,1)" font-size="8.4" font-style="italic">S</text><text transform="translate(514.28,210.60) scale(1.011,1)" font-size="8.4">0</text><text transform="translate(524.10,209.80) scale(1.343,1)" font-size="12.0">=</text><text transform="translate(536.35,208.70) scale(0.899,1)" font-size="12.0">1</text>
<clipPath id="cpC5"><rect x="204.0" y="412.95" width="235.0" height="140.6"/></clipPath>
<g clip-path="url(#cpC5)" fill="none">
<path d="M204.00,472.40 L214.00,467.60 L224.00,463.00 L235.00,458.40 L237.60,457.60 L245.00,455.60 L255.00,453.00 L262.00,449.60 L272.00,445.00 L284.00,442.40 L296.00,440.00 L308.00,437.40 L322.00,437.00 L332.00,435.60 L344.00,436.00 L356.00,437.60 L364.00,440.30 L373.60,443.90 L384.40,448.80 L393.90,454.80 L402.00,462.00 L410.20,468.80 L419.70,473.90 L427.80,479.30 L439.00,487.80" stroke="#c8141c" stroke-width="1.85" stroke-linejoin="round"/>
<g style="mix-blend-mode:multiply">
<path d="M204.00,524.70 L225.00,515.60 L254.00,502.60 L282.00,489.50 L292.20,487.20 L302.40,484.50 L312.50,481.40 L323.40,479.00 L333.60,476.90 L343.70,475.90 L353.90,475.50 L364.00,475.90 L374.90,478.00 L384.40,481.40 L393.90,486.80 L402.00,492.90 L410.20,501.00 L418.30,507.80 L427.80,512.50 L434.00,515.30 L439.00,517.50" stroke="#7c7c7c" stroke-width="0.9" stroke-dasharray="4.2 6.35"/>
<path d="M204.00,505.60 L225.00,496.50 L240.00,490.00 L251.50,483.20 L262.00,479.00 L271.00,473.00 L281.50,469.70 L291.50,466.40 L301.70,464.10 L311.20,460.10 L322.00,458.70 L332.20,456.50 L342.40,455.20 L353.20,455.00 L362.70,455.60 L374.00,458.00 L385.00,462.60 L396.00,468.50 L408.80,476.00 L418.00,482.00 L427.80,489.00 L439.00,495.00" stroke="#7c7c7c" stroke-width="0.9" stroke-dasharray="4.2 6.35"/>
<path d="M204.00,470.20 L214.00,465.11 L224.00,460.23 L235.00,455.67 L237.60,454.89 L245.00,452.94 L255.00,450.41 L262.00,447.11 L272.00,442.65 L284.00,440.22 L296.00,438.01 L308.00,435.61 L322.00,435.43 L332.00,435.05 L344.00,437.34 L356.00,440.02 L364.00,443.40 L373.60,447.50 L384.40,452.40 L393.90,458.40 L402.00,465.60 L410.20,472.40 L419.70,477.50 L427.80,482.90 L439.00,491.40" stroke="#7c7c7c" stroke-width="0.9" stroke-dasharray="4.2 6.35"/>
<path d="M204.00,471.40 L214.00,466.41 L224.00,461.62 L235.00,457.07 L237.60,456.29 L245.00,454.34 L255.00,451.81 L262.00,448.46 L272.00,443.92 L284.00,441.41 L296.00,439.15 L308.00,436.69 L322.00,436.45 L332.00,435.89 L344.00,437.87 L356.00,440.39 L364.00,443.67 L373.60,447.70 L384.40,452.60 L393.90,458.60 L402.00,465.80 L410.20,472.60 L419.70,477.70 L427.80,483.10 L439.00,491.60" stroke="#7c7c7c" stroke-width="0.9" stroke-dasharray="4.2 6.35"/>
<path d="M204.00,474.00 L214.00,469.39 L224.00,464.98 L235.00,460.68 L237.60,459.95 L245.00,458.15 L255.00,455.84 L262.00,452.73 L272.00,448.54 L284.00,446.39 L296.00,443.88 L308.00,441.16 L322.00,440.62 L332.00,439.13 L344.00,439.54 L356.00,441.20 L364.00,443.94 L373.60,447.59 L384.40,452.54 L393.90,458.58 L402.00,465.82 L410.20,472.66 L419.70,477.81 L427.80,483.25 L439.00,491.80" stroke="#7c7c7c" stroke-width="0.9" stroke-dasharray="4.2 6.35"/>
<path d="M204.00,480.90 L214.00,475.29 L224.00,469.88 L235.00,465.96 L237.60,465.36 L245.00,463.92 L255.00,462.02 L262.00,458.74 L272.00,454.31 L284.00,451.86 L296.00,449.00 L308.00,445.94 L322.00,445.00 L332.00,443.22 L344.00,443.86 L356.00,445.94 L364.00,449.44 L373.60,454.58 L384.40,461.20 L393.90,466.48 L402.00,472.94 L410.20,478.98 L419.70,483.10 L427.80,487.66 L439.00,495.00" stroke="#7c7c7c" stroke-width="0.9" stroke-dasharray="4.2 6.35"/>
<path d="M204.00,486.20 L214.00,481.35 L224.00,476.70 L235.00,471.31 L237.60,470.30 L245.00,467.71 L255.00,464.40 L262.00,460.97 L272.00,456.34 L284.00,453.65 L296.00,450.60 L308.00,447.35 L322.00,446.20 L332.00,444.26 L344.00,444.61 L356.00,446.35 L364.00,449.77 L373.60,454.98 L384.40,461.70 L393.90,466.95 L402.00,473.37 L410.20,479.38 L419.70,483.50 L427.80,488.06 L439.00,495.40" stroke="#7c7c7c" stroke-width="0.9" stroke-dasharray="4.2 6.35"/>
</g>
<path d="M204.00,449.60 L237.60,428.40 L257.20,435.00 L271.20,431.00 L288.00,434.00 L302.00,436.00 L314.00,437.00 L322.00,437.60 L336.00,440.00 L350.00,443.00 L360.00,447.50 L372.20,453.60 L384.40,461.70 L392.50,466.40 L400.70,473.20 L410.20,479.30 L418.30,484.70 L427.80,490.20 L439.00,495.20" stroke="#0a0096" stroke-width="1.7" stroke-dasharray="10.1 6.4 0.01 6.29" stroke-dashoffset="-0.8" stroke-linecap="round" stroke-linejoin="round"/>
</g>
<path d="M237.57,553.55v-2.2M237.57,412.95v2.2M257.21,553.55v-2.2M257.21,412.95v2.2M271.14,553.55v-2.2M271.14,412.95v2.2M281.95,553.55v-2.2M281.95,412.95v2.2M290.78,553.55v-2.2M290.78,412.95v2.2M298.25,553.55v-2.2M298.25,412.95v2.2M304.71,553.55v-2.2M304.71,412.95v2.2M310.42,553.55v-2.2M310.42,412.95v2.2M315.52,553.55v-4.0M315.52,412.95v4.0M349.09,553.55v-2.2M349.09,412.95v2.2M368.73,553.55v-2.2M368.73,412.95v2.2M382.66,553.55v-2.2M382.66,412.95v2.2M393.47,553.55v-2.2M393.47,412.95v2.2M402.30,553.55v-2.2M402.30,412.95v2.2M409.77,553.55v-2.2M409.77,412.95v2.2M416.24,553.55v-2.2M416.24,412.95v2.2M421.94,553.55v-2.2M421.94,412.95v2.2M427.04,553.55v-4.0M427.04,412.95v4.0M204.00,535.98h2.2M439.00,535.98h-2.2M204.00,518.40h4.0M439.00,518.40h-4.0M204.00,500.82h2.2M439.00,500.82h-2.2M204.00,483.25h4.0M439.00,483.25h-4.0M204.00,465.67h2.2M439.00,465.67h-2.2M204.00,448.10h4.0M439.00,448.10h-4.0M204.00,430.52h2.2M439.00,430.52h-2.2" stroke="#000" stroke-width="0.9" fill="none"/>
<rect x="204.00" y="412.95" width="235.00" height="140.60" stroke="#000" stroke-width="1.15" fill="none"/>
<text transform="translate(177.00,415.95) scale(0.944,1)" font-size="12.0">10</text><text x="188.65" y="411.95" font-size="8.4">1</text>
<text transform="translate(168.85,451.10) scale(0.944,1)" font-size="12.0">10</text><rect x="181.85" y="444.65" width="5.15" height="0.62" fill="#000"/><text x="188.65" y="447.10" font-size="8.4">1</text>
<text transform="translate(168.85,486.25) scale(0.944,1)" font-size="12.0">10</text><rect x="181.85" y="479.80" width="5.15" height="0.62" fill="#000"/><text x="188.65" y="482.25" font-size="8.4">3</text>
<text transform="translate(168.85,521.40) scale(0.944,1)" font-size="12.0">10</text><rect x="181.85" y="514.95" width="5.15" height="0.62" fill="#000"/><text x="188.65" y="517.40" font-size="8.4">5</text>
<text transform="translate(168.85,556.55) scale(0.944,1)" font-size="12.0">10</text><rect x="181.85" y="550.10" width="5.15" height="0.62" fill="#000"/><text x="188.65" y="552.55" font-size="8.4">7</text>
<text transform="translate(195.25,572.55) scale(0.944,1)" font-size="12.0">10</text><text x="207.23" y="568.65" font-size="8.4">0</text>
<text transform="translate(306.78,572.55) scale(0.944,1)" font-size="12.0">10</text><text x="318.33" y="568.65" font-size="8.4">1</text>
<text transform="translate(418.30,572.55) scale(0.944,1)" font-size="12.0">10</text><text x="430.22" y="568.65" font-size="8.4">2</text>
<text transform="translate(318.12,586.55) scale(1.105,1)" font-size="12.0" font-style="italic">k</text>
<g transform="translate(162.20,540.75) rotate(-90)"><text transform="translate(-0.05,0.00) scale(1.008,1)" font-size="12.0" font-style="italic">k</text><text transform="translate(6.46,-3.30) scale(1.311,1)" font-size="8.4">5/3</text><text transform="translate(23.77,0.00) scale(1.016,1)" font-size="12.0" font-style="italic">P</text><text transform="translate(30.53,1.90) scale(0.891,1)" font-size="8.4" font-style="italic">u</text><text transform="translate(37.72,0.00) scale(1.103,1)" font-size="12.0">(</text><text transform="translate(42.50,0.00) scale(0.853,1)" font-size="12.0" font-style="italic">k</text><text transform="translate(47.90,0.00) scale(1.038,1)" font-size="12.0">)</text><text transform="translate(53.34,0.00) scale(0.783,1)" font-size="12.0">,</text><text transform="translate(60.07,0.00) scale(0.950,1)" font-size="12.0" font-style="italic">k</text><text transform="translate(66.55,-3.30) scale(1.341,1)" font-size="8.4">5/3</text><text transform="translate(84.56,0.00) scale(0.931,1)" font-size="12.0" font-style="italic">P</text><text transform="translate(91.42,1.60) scale(1.068,1)" font-size="8.4" font-style="italic">B</text><text transform="translate(100.22,0.00) scale(1.103,1)" font-size="12.0">(</text><text transform="translate(104.91,0.00) scale(0.834,1)" font-size="12.0" font-style="italic">k</text><text transform="translate(109.89,0.00) scale(1.071,1)" font-size="12.0">)</text></g>
<text transform="translate(277.44,399.50) scale(1.124,1)" font-size="12.0" font-weight="bold">Cmhd:</text><text transform="translate(324.05,399.50) scale(0.725,1)" font-size="12.0" font-style="italic">V</text><text transform="translate(330.69,401.40) scale(1.109,1)" font-size="8.4" font-style="italic">S</text><text transform="translate(337.58,401.40) scale(0.997,1)" font-size="8.4">0</text><text transform="translate(347.20,400.60) scale(1.164,1)" font-size="12.0">=</text><text transform="translate(358.45,399.50) scale(1.042,1)" font-size="12.0">1</text>
</svg>
</body></html>
